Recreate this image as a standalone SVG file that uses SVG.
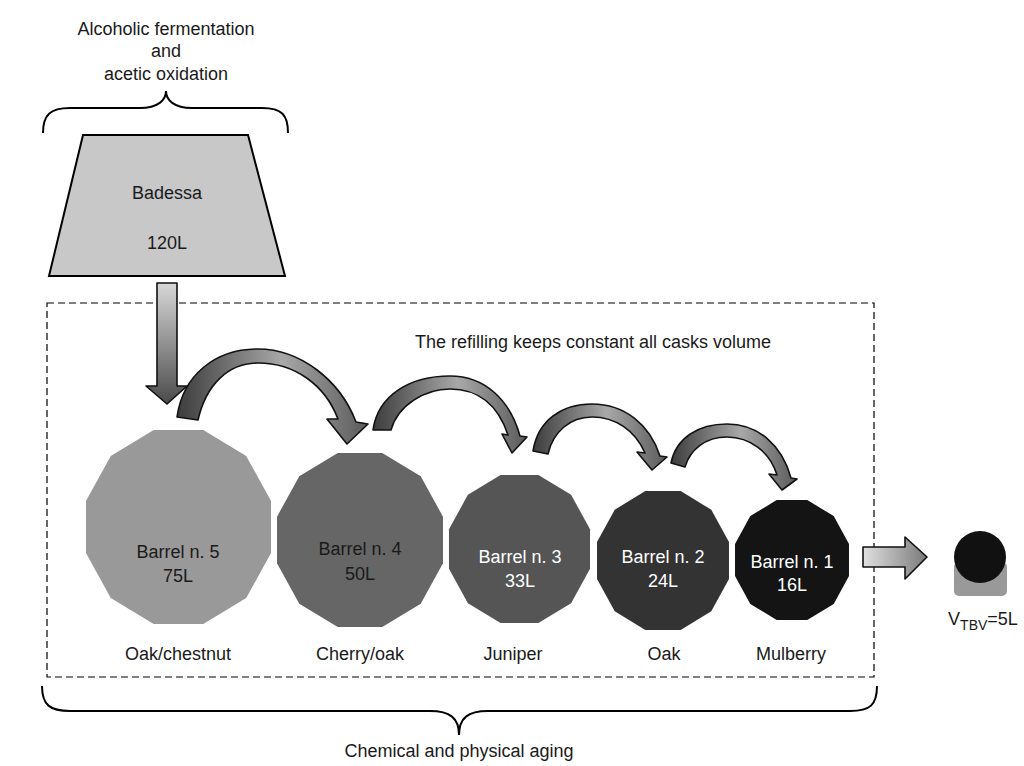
<svg xmlns="http://www.w3.org/2000/svg" xmlns:xlink="http://www.w3.org/1999/xlink" width="1024" height="766" viewBox="0 0 1024 766">
<style>
text{font-family:"Liberation Sans",Arial,sans-serif;font-size:18px;fill:#1a1a1a;text-anchor:middle}
.w{fill:#ffffff}
.brace{fill:none;stroke:#000;stroke-width:2}
.arc{stroke:#111;stroke-width:1.6;stroke-linejoin:round;fill:url(#gArc)}
</style>
<defs>
<polygon id="dodec" points="0.966,0.259 0.707,0.707 0.259,0.966 -0.259,0.966 -0.707,0.707 -0.966,0.259 -0.966,-0.259 -0.707,-0.707 -0.259,-0.966 0.259,-0.966 0.707,-0.707 0.966,-0.259"/>
<linearGradient id="gArc" x1="0" y1="0" x2="1" y2="0">
<stop offset="0" stop-color="#3c3c3c"/>
<stop offset="0.55" stop-color="#a8a8a8"/>
<stop offset="1" stop-color="#5a5a5a"/>
</linearGradient>
<linearGradient id="gDown" x1="0" y1="0" x2="0" y2="1">
<stop offset="0" stop-color="#d8d8d8"/>
<stop offset="1" stop-color="#4a4a4a"/>
</linearGradient>
<linearGradient id="gRight" x1="0" y1="0" x2="1" y2="0">
<stop offset="0" stop-color="#e0e0e0"/>
<stop offset="1" stop-color="#7a7a7a"/>
</linearGradient>
</defs>
<rect width="1024" height="766" fill="#fff"/>

<g id="top-label">
<text x="166" y="35">Alcoholic fermentation</text>
<text x="166" y="57">and</text>
<text x="166" y="80">acetic oxidation</text>
<path class="brace" d="M43,133 C43,115 50,108 70,108 L140,108 C158,108 166,100 166,91 C166,100 174,108 192,108 L262,108 C282,108 288,115 288,133"/>
</g>

<g id="badessa">
<polygon points="83,135 248,135 285,276 49,276" fill="#c8c8c8" stroke="#000" stroke-width="2"/>
<text x="167" y="199">Badessa</text>
<text x="167" y="249">120L</text>
</g>

<g id="aging-box">
<rect x="47" y="303" width="827" height="374" fill="none" stroke="#000" stroke-width="1.2" stroke-dasharray="7,4"/>
<text x="593" y="348">The refilling keeps constant all casks volume</text>
</g>

<g id="barrel5">
<use xlink:href="#dodec" transform="translate(178.5,527) scale(95.8,100.4)" fill="#999999"/>
<text x="178" y="558">Barrel n. 5</text>
<text x="178" y="582">75L</text>
<text x="178" y="660">Oak/chestnut</text>
</g>
<g id="barrel4">
<use xlink:href="#dodec" transform="translate(360,540) scale(85.9,90.1)" fill="#666666"/>
<text x="360" y="555">Barrel n. 4</text>
<text x="360" y="580">50L</text>
<text x="360" y="660">Cherry/oak</text>
</g>
<g id="barrel3">
<use xlink:href="#dodec" transform="translate(519.5,549) scale(73,76.6)" fill="#555555"/>
<text class="w" x="520" y="563">Barrel n. 3</text>
<text class="w" x="520" y="587">33L</text>
<text x="513" y="660">Juniper</text>
</g>
<g id="barrel2">
<use xlink:href="#dodec" transform="translate(663,560.5) scale(68.3,71.9)" fill="#333333"/>
<text class="w" x="663" y="563">Barrel n. 2</text>
<text class="w" x="663" y="587">24L</text>
<text x="664" y="660">Oak</text>
</g>
<g id="barrel1">
<use xlink:href="#dodec" transform="translate(792,560) scale(59,62.1)" fill="#141414"/>
<text class="w" x="792" y="568">Barrel n. 1</text>
<text class="w" x="792" y="591">16L</text>
<text x="791" y="660">Mulberry</text>
</g>

<g id="tbv">
<rect x="954" y="562" width="53" height="34" rx="5" fill="#999999"/>
<circle cx="980" cy="557" r="26" fill="#111111"/>
<text x="983" y="625">V<tspan font-size="14" dy="5">TBV</tspan><tspan dy="-5">=5L</tspan></text>
</g>

<g id="bottom-label">
<path class="brace" d="M42,686 C42,705 50,711 70,711 L430,711 C450,711 459,718 459,735 C459,718 468,711 488,711 L850,711 C870,711 877,705 877,686"/>
<text x="459" y="757">Chemical and physical aging</text>
</g>

<g id="connectors">
<path d="M157,283 L177,283 L177,386 L187,386 L167,404 L146,386 L157,386 Z" fill="url(#gDown)" stroke="#111" stroke-width="1.6" stroke-linejoin="round"/>
<path class="arc" d="M177,417 C183,375 215,349 258,349 C300,349 340,380 356,422 L368,424 L347,444 L327,419 L338,419 C325,385 295,363 258,363 C228,363 206,385 198,420 Z"/>
<path class="arc" d="M373,430 C378,395 410,376 450,376 C485,376 510,400 520,436 L527,437 L512,453 L502,434 L508,435 C498,405 478,389 450,389 C425,389 398,405 391,430 Z"/>
<path class="arc" d="M533,451 C538,420 562,404 592,404 C625,404 650,425 660,456 L667,457 L652,470 L637,452 L645,453 C635,430 615,417 592,417 C570,417 553,432 548,454 Z"/>
<path class="arc" d="M671,463 C676,438 698,424 727,424 C758,424 782,445 791,478 L797,479 L782,490 L769,474 L777,475 C770,452 750,437 727,437 C705,437 690,450 685,467 Z"/>
<path d="M863,547 L905,547 L905,537 L927,557 L905,579 L905,567 L863,567 Z" fill="url(#gRight)" stroke="#111" stroke-width="1.6" stroke-linejoin="round"/>
</g>
</svg>
